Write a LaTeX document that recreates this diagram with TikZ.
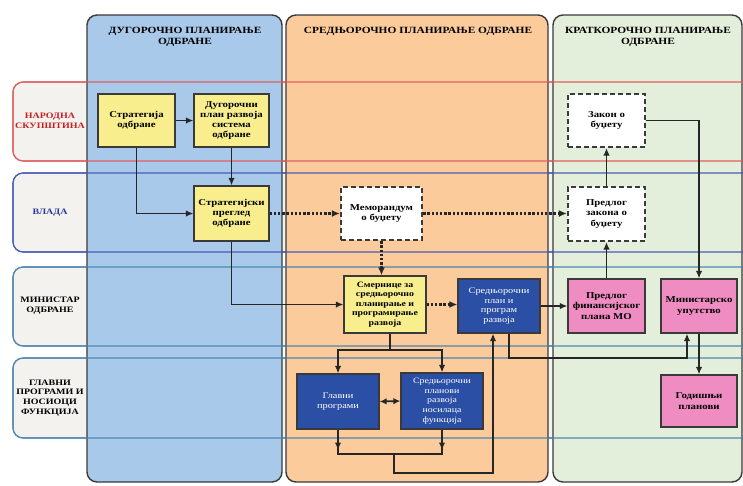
\documentclass[tikz,border=0pt]{standalone}
\usepackage{fontspec}
\setmainfont{Liberation Serif}
\newfontfamily\wfont[FakeStretch=1.2]{Liberation Serif}
\usetikzlibrary{arrows.meta,calc}
\definecolor{colblue}{HTML}{A9C9EA}
\definecolor{colorange}{HTML}{FBCB9B}
\definecolor{colgreen}{HTML}{E3EFDA}
\definecolor{colborder}{HTML}{3A3A3A}
\definecolor{lblbg}{HTML}{F4F2EF}
\definecolor{rowred}{HTML}{E06060}
\definecolor{rowblue}{HTML}{4A5BB5}
\definecolor{rowteal}{HTML}{4D87B3}
\definecolor{txtred}{HTML}{C81E1E}
\definecolor{txtblue}{HTML}{2B3A9A}
\definecolor{yel}{HTML}{F8EE8E}
\definecolor{dblue}{HTML}{2C4FA6}
\definecolor{pink}{HTML}{EF8DC2}
\definecolor{linec}{HTML}{262626}
\begin{document}
\begin{tikzpicture}[x=1pt,y=-1pt,
  basefont/.style={font=\wfont\bfseries\fontsize{9}{10.3}\selectfont},
  hdr/.style={font=\wfont\bfseries\fontsize{9.5}{11.5}\selectfont, align=center, text=black},
  lbl/.style={font=\wfont\bfseries\fontsize{8.3}{9.8}\selectfont, align=center, inner sep=0},
  boxbase/.style={draw=colborder, line width=1.3pt, align=center, inner sep=1pt, basefont},
  ybox/.style={boxbase, fill=yel},
  dbox/.style={boxbase, fill=white, line width=2.2pt, dash pattern=on 5pt off 3pt},
  bbox/.style={boxbase, fill=dblue, text=white, font=\wfont\fontsize{8.6}{9.8}\selectfont},
  pbox/.style={boxbase, fill=pink},
  colbox/.style={draw=colborder, line width=1.4pt, rounded corners=10pt},
  rowline/.style={line width=1.1pt, rounded corners=10pt},
  wire/.style={draw=linec, line width=1.4pt},
  arr/.style={wire, -{Latex[length=7.5pt,width=6.5pt]}},
  dotarr/.style={draw=linec, line width=2.6pt, dash pattern=on 2.4pt off 1.8pt, -{Latex[length=8pt,width=7pt]}},
  darr/.style={wire, line width=1.8pt, {Latex[length=7pt,width=6.5pt]}-{Latex[length=7pt,width=6.5pt]}}
]
\useasboundingbox (0,0) rectangle (743,485);
\clip (0,0) rectangle (743,485);
\fill[white] (0,0) rectangle (743,485);

% row bands (background)
\draw[rowline, draw=rowred, fill=lblbg] (13,82) rectangle (790,161);
\draw[rowline, draw=rowblue, fill=lblbg] (13,173) rectangle (790,252);
\draw[rowline, draw=rowteal, fill=lblbg] (13,267) rectangle (790,346);
\draw[rowline, draw=rowteal, fill=lblbg] (13,358) rectangle (790,438);

% columns
\draw[colbox, fill=colblue] (87,15) rectangle (282,482);
\draw[colbox, fill=colorange] (286,15) rectangle (548,482);
\draw[colbox, fill=colgreen] (553,15) rectangle (742,482);

% row band lines over columns
\draw[rowline, draw=rowred] (13,82) rectangle (790,161);
\draw[rowline, draw=rowblue] (13,173) rectangle (790,252);
\draw[rowline, draw=rowteal] (13,267) rectangle (790,346);
\draw[rowline, draw=rowteal] (13,358) rectangle (790,438);

% headers
\node[hdr] (h1) at (185,37) {ДУГОРОЧНО ПЛАНИРАЊЕ\\ОДБРАНЕ};
\node[hdr] (h2) at (418,31) {СРЕДЊОРОЧНО ПЛАНИРАЊЕ ОДБРАНЕ};
\node[hdr] (h3) at (648,37) {КРАТКОРОЧНО ПЛАНИРАЊЕ\\ОДБРАНЕ};

% row labels
\node[lbl, text=txtred] (l1) at (50,121) {НАРОДНА\\СКУПШТИНА};
\node[lbl, text=txtblue] (l2) at (50,213) {ВЛАДА};
\node[lbl] (l3) at (50,306) {МИНИСТАР\\ОДБРАНЕ};
\node[lbl] (l4) at (50,398) {ГЛАВНИ\\ПРОГРАМИ И\\НОСИОЦИ\\ФУНКЦИЈА};

% boxes
\node[ybox, minimum width=77pt, minimum height=53pt] (strat) at (136.5,120.5) {Стратегија\\одбране};
\node[ybox, minimum width=75pt, minimum height=53pt] (dugor) at (231.5,120.5) {Дугорочни\\план развоја\\система\\одбране};
\node[ybox, minimum width=75pt, minimum height=55pt] (pregled) at (231.5,213.5) {Стратегијски\\преглед\\одбране};
\node[dbox, minimum width=81pt, minimum height=53pt] (memo) at (381.5,213.5) {Меморандум\\о буџету};
\node[ybox, minimum width=82pt, minimum height=57pt, font=\wfont\bfseries\fontsize{8.2}{9.6}\selectfont] (smern) at (385,304.5) {Смернице за\\средњорочно\\планирање и\\програмирање\\развоја};
\node[bbox, minimum width=82pt, minimum height=54pt] (sredplan) at (499,306) {Средњорочни\\план и\\програм\\развоја};
\node[bbox, minimum width=82pt, minimum height=55pt] (glavni) at (338,401.5) {Главни\\програми};
\node[bbox, minimum width=82pt, minimum height=56pt, font=\wfont\fontsize{8.2}{9.6}\selectfont] (sredplanovi) at (442,401) {Средњорочни\\планови\\развоја\\носилаца\\функција};
\node[dbox, minimum width=77pt, minimum height=53pt] (zakon) at (606.5,120.5) {Закон о\\буџету};
\node[dbox, minimum width=77pt, minimum height=54pt] (predzak) at (606.5,214) {Предлог\\закона о\\буџету};
\node[pbox, minimum width=77pt, minimum height=54pt] (predfin) at (606.5,306) {Предлог\\финансијског\\плана МО};
\node[pbox, minimum width=76pt, minimum height=54pt] (minupt) at (699,306) {Министарско\\упутство};
\node[pbox, minimum width=76pt, minimum height=52pt] (godis) at (699,401) {Годишњи\\планови};

% connectors
\draw[arr] (strat.east) -- (dugor.west);
\draw[arr] (strat.south) |- (pregled.west);
\draw[arr] (dugor.south) -- (pregled.north);
\draw[dotarr] (pregled.east) -- (memo.west);
\draw[dotarr] (memo.east) -- (predzak.west |- memo.east);
\draw[dotarr] (memo.south) -- (memo.south |- smern.north);
\draw[arr] (pregled.south) |- (smern.west);
\draw[dotarr] (smern.east) -- (sredplan.west |- smern.east);
\draw[arr] (sredplan.east) -- (predfin.west);

\coordinate (split) at (390,350);
\draw[wire] (split |- smern.south) -- (split);
\draw[arr] (split) -| (glavni.north);
\draw[arr] (split) -| (sredplanovi.north);
\draw[darr] (glavni.east) -- (sredplanovi.west);

\coordinate (join) at (394,454);
\draw[wire] (glavni.south) |- (join) -| (sredplanovi.south);
\draw[arr] (glavni.south) -- ($(glavni.south |- join)+(0,-4)$);
\draw[arr] (sredplanovi.south) -- ($(sredplanovi.south |- join)+(0,-4)$);
\coordinate (bot) at (493,473);
\draw[arr] (join) |- (bot) -- (bot |- sredplan.south);

\coordinate (r1) at (509,358);
\coordinate (r2) at (687,358);
\draw[arr] (r1 |- sredplan.south) -- (r1) -- (r2) -- (r2 |- minupt.south);

\draw[arr] (zakon.east) -| (minupt.north);
\draw[arr] (predzak.north) -- (zakon.south);
\draw[arr] (predfin.north) -- (predzak.south);
\draw[arr] (minupt.south) -- (godis.north);
\end{tikzpicture}
\end{document}
